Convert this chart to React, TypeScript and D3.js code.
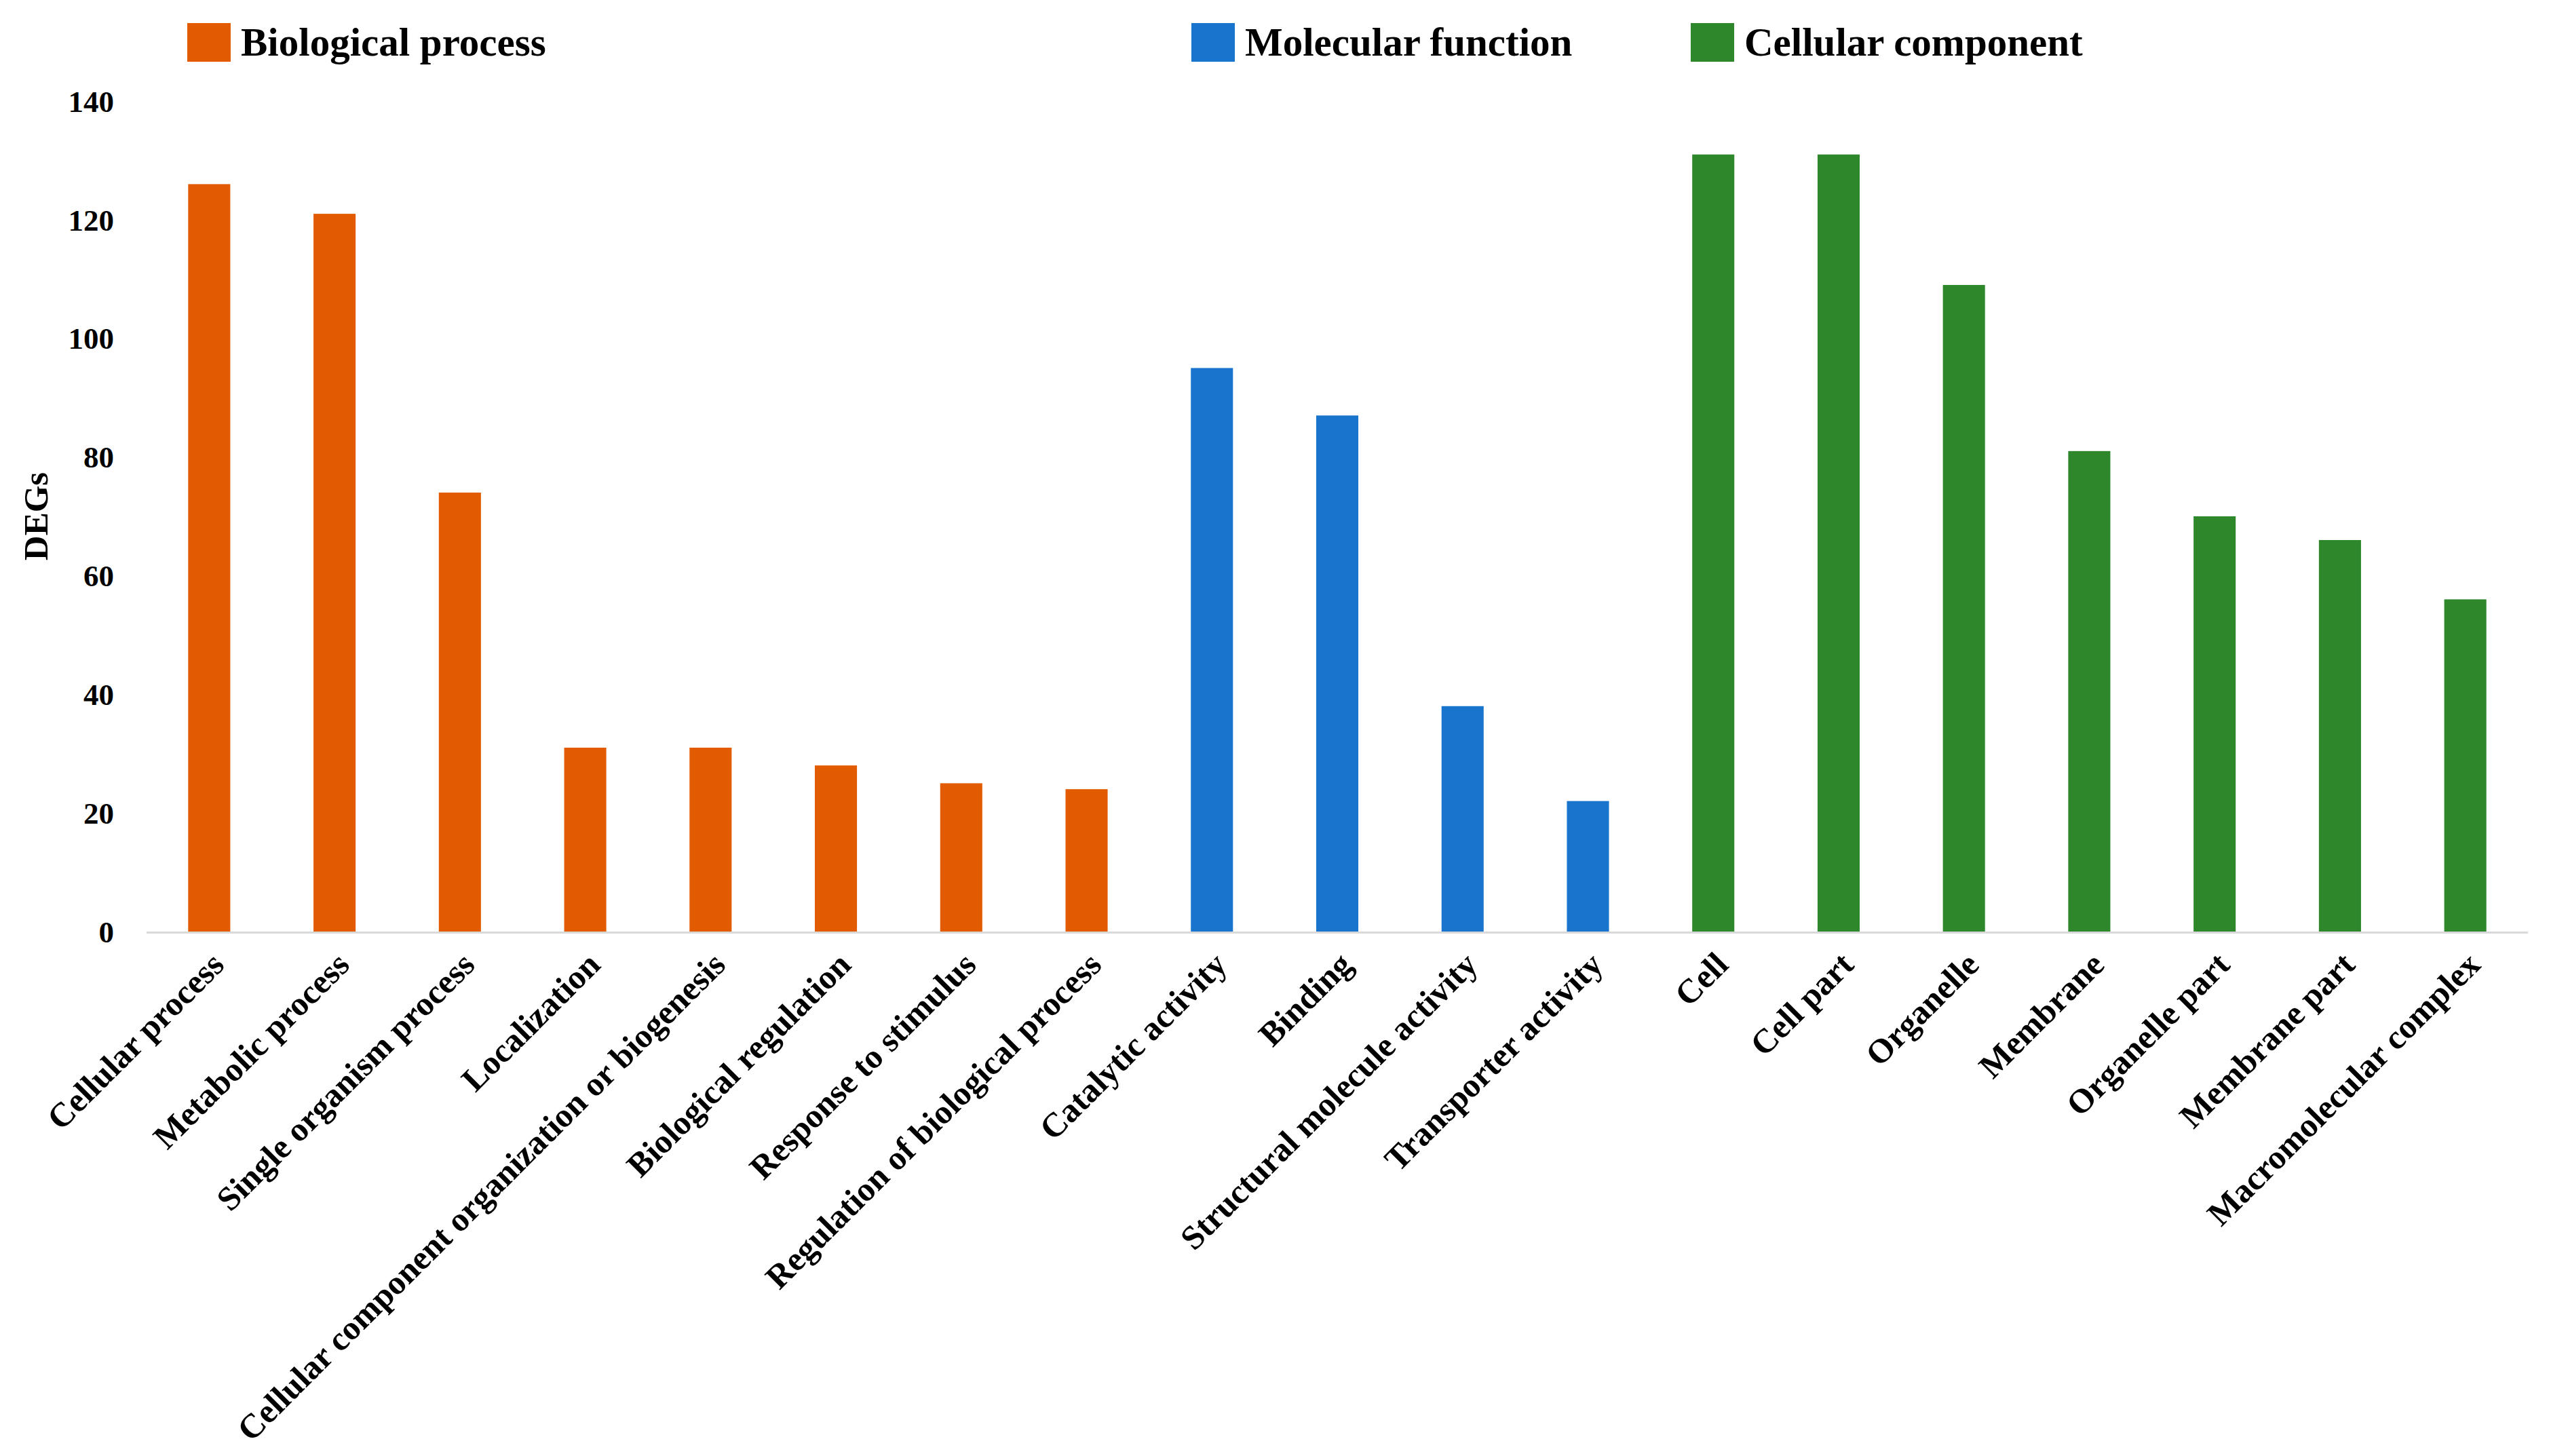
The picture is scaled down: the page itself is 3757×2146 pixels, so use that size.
import { useEffect, useRef } from 'react';
import * as d3 from 'd3';

const bpLabels = [
  'Cellular process',
  'Metabolic process',
  'Single organism process',
  'Localization',
  'Cellular component organization or biogenesis',
  'Biological regulation',
  'Response to stimulus',
  'Regulation of biological process',
];
const bpValues = [126, 121, 74, 31, 31, 28, 25, 24];

const mfLabels = ['Catalytic activity', 'Binding', 'Structural molecule activity', 'Transporter activity'];
const mfValues = [95, 87, 38, 22];

const ccLabels = ['Cell', 'Cell part', 'Organelle', 'Membrane', 'Organelle part', 'Membrane part', 'Macromolecular complex'];
const ccValues = [131, 131, 109, 81, 70, 66, 56];

const groupNames = ['Biological process', 'Molecular function', 'Cellular component'];
const yTicks = [0, 20, 40, 60, 80, 100, 120, 140];

const colors = ['#E35B00', '#1874CD', '#2E872B'];
const FONT = '"Palatino Linotype", "Book Antiqua", Palatino, "Liberation Serif", serif';

export default function App() {
  const svgRef = useRef<SVGSVGElement>(null);

  useEffect(() => {
    if (!svgRef.current) return;
    const svg = d3.select(svgRef.current);
    svg.selectAll('*').remove();

    const width = 3757;
    const height = 2146;
    const margin = { top: 149, right: 31, bottom: 773, left: 216 };

    const rows = [
      ...bpLabels.map((l, i) => ({ label: l, value: bpValues[i], group: 0 })),
      ...mfLabels.map((l, i) => ({ label: l, value: mfValues[i], group: 1 })),
      ...ccLabels.map((l, i) => ({ label: l, value: ccValues[i], group: 2 })),
    ];

    const x = d3
      .scaleBand()
      .domain(rows.map((r) => r.label))
      .range([margin.left, width - margin.right])
      .paddingInner(0.664)
      .paddingOuter(0.332);

    const y = d3
      .scaleLinear()
      .domain([0, 140])
      .range([height - margin.bottom, margin.top]);

    // bars
    svg
      .append('g')
      .selectAll('rect')
      .data(rows)
      .enter()
      .append('rect')
      .attr('x', (d) => x(d.label) || 0)
      .attr('y', (d) => y(d.value))
      .attr('width', x.bandwidth())
      .attr('height', (d) => y(0) - y(d.value))
      .attr('fill', (d) => colors[d.group]);

    // baseline
    svg
      .append('line')
      .attr('x1', margin.left)
      .attr('x2', width - margin.right)
      .attr('y1', y(0) + 1.5)
      .attr('y2', y(0) + 1.5)
      .attr('stroke', '#d9d9d9')
      .attr('stroke-width', 3);

    // y tick labels
    svg
      .append('g')
      .selectAll('text')
      .data(yTicks)
      .enter()
      .append('text')
      .attr('x', 168)
      .attr('y', (d) => y(d))
      .attr('dy', '0.35em')
      .attr('text-anchor', 'end')
      .style('font-family', FONT)
      .style('font-weight', 'bold')
      .style('font-size', '45px')
      .text((d) => d);

    svg
      .append('text')
      .attr('transform', `translate(70,${(y(0) + y(140)) / 2}) rotate(-90)`)
      .attr('text-anchor', 'middle')
      .style('font-family', FONT)
      .style('font-weight', 'bold')
      .style('font-size', '51px')
      .text('DEGs');

    // x labels
    svg
      .append('g')
      .selectAll('text')
      .data(rows)
      .enter()
      .append('text')
      .attr('transform', (d) => `translate(${(x(d.label) || 0) + x.bandwidth() / 2},1400) rotate(-45)`)
      .attr('dy', 35)
      .attr('text-anchor', 'end')
      .style('font-family', FONT)
      .style('font-weight', 'bold')
      .style('font-size', '50px')
      .text((d) => d.label);

    // legend
    const legendX = [276, 1756, 2492];
    const legend = svg
      .append('g')
      .selectAll('g')
      .data(groupNames)
      .enter()
      .append('g')
      .attr('transform', (d, i) => `translate(${legendX[i]},34)`);
    legend
      .append('rect')
      .attr('width', 64)
      .attr('height', 57)
      .attr('fill', (d, i) => colors[i]);
    legend
      .append('text')
      .attr('x', 79)
      .attr('y', 48)
      .style('font-family', FONT)
      .style('font-weight', 'bold')
      .style('font-size', '59px')
      .text((d) => d);
  }, []);

  return (
    <svg
      ref={svgRef}
      width={3757}
      height={2146}
      style={{ position: 'absolute', left: 0, top: 0, background: '#fff' }}
    />
  );
}
